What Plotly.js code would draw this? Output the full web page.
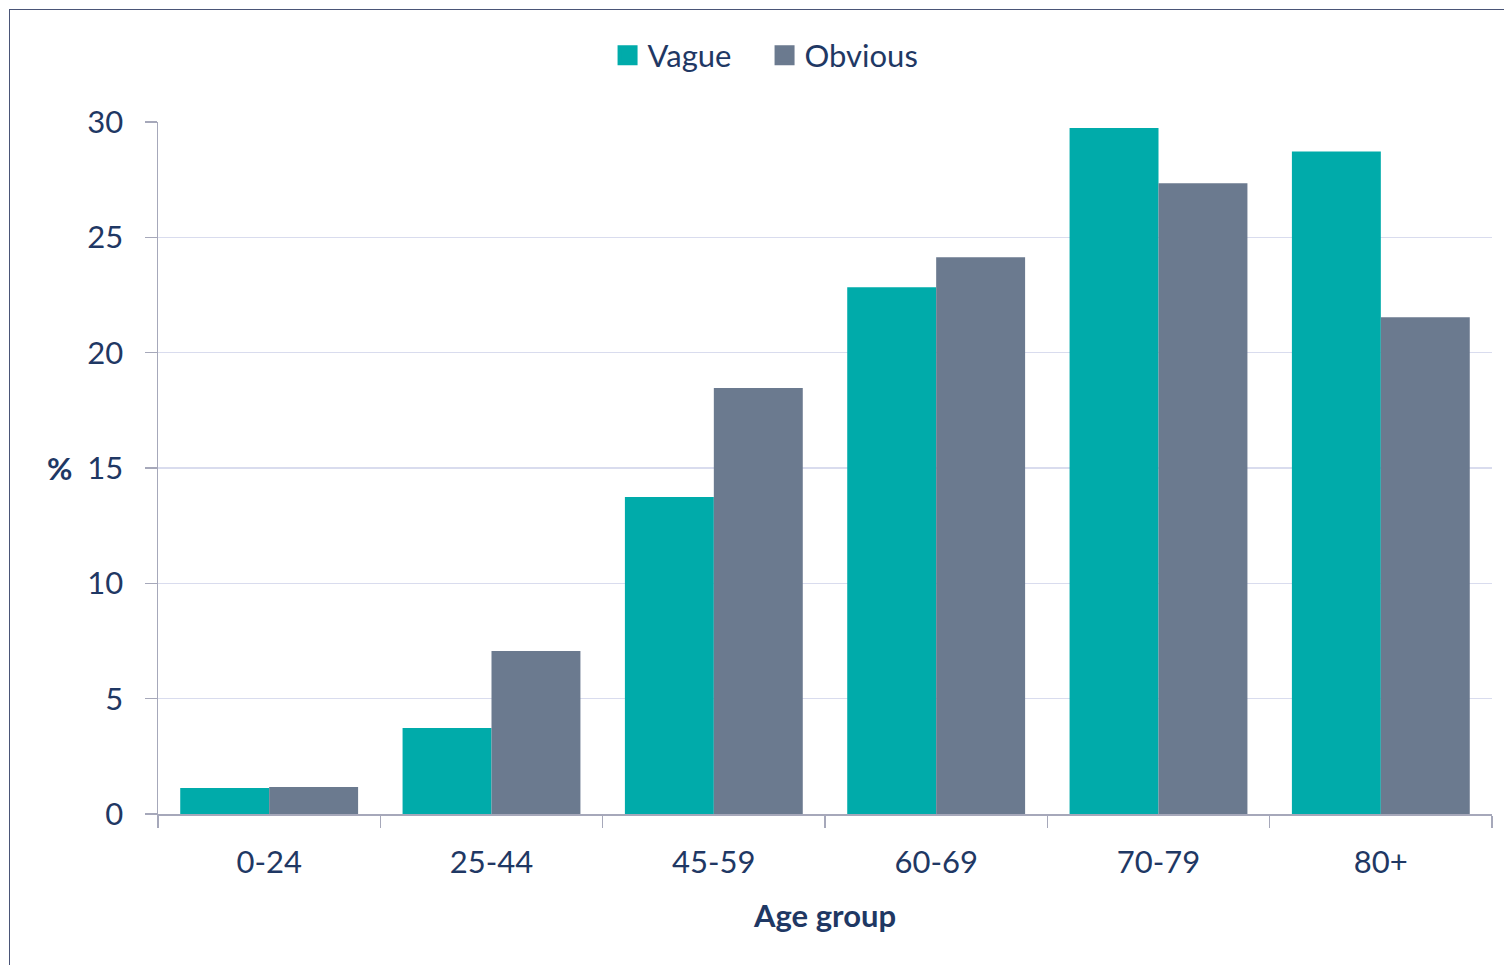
<!DOCTYPE html>
<html>
<head>
<meta charset="utf-8">
<script src="https://cdn.plot.ly/plotly-3.0.1.min.js"></script>
<style>
html,body{margin:0;padding:0;background:#fff;overflow:hidden;}
#wrap{position:relative;width:1504px;height:965px;}
#chart{position:absolute;left:0;top:0;width:1504px;height:965px;}
#frame{position:absolute;left:9px;top:9px;width:1600px;height:1000px;border-left:1.5px solid #4A5577;border-top:1.5px solid #4A5577;pointer-events:none;}
</style>
</head>
<body>
<div id="wrap"><div id="chart"></div><div id="frame"></div></div>
<script>
const categories = ["0-24", "25-44", "45-59", "60-69", "70-79", "80+"];
const vague = [1.13, 3.73, 13.74, 22.84, 29.74, 28.72];
const obvious = [1.17, 7.07, 18.47, 24.14, 27.35, 21.54];
const seriesNames = ["Vague", "Obvious"];
const colors = ["#00ABAA", "#6B7A8F"];
const textColor = "#1F3864";
const font = "Lato, 'Open Sans', sans-serif";

const traces = [
  {type: "bar", x: categories, y: vague, name: seriesNames[0], marker: {color: colors[0]}, showlegend: false, hoverinfo: "x+y"},
  {type: "bar", x: categories, y: obvious, name: seriesNames[1], marker: {color: colors[1]}, showlegend: false, hoverinfo: "x+y"},
  {type: "scatter", mode: "markers", x: [null], y: [null], name: seriesNames[0], marker: {symbol: "square", size: 16, color: colors[0], line: {color: colors[0], width: 4}}, showlegend: true},
  {type: "scatter", mode: "markers", x: [null], y: [null], name: seriesNames[1], marker: {symbol: "square", size: 16, color: colors[1], line: {color: colors[1], width: 4}}, showlegend: true}
];

const layout = {
  width: 1504, height: 965,
  margin: {l: 158, r: 12, t: 122, b: 151},
  paper_bgcolor: "#fff", plot_bgcolor: "#fff",
  font: {family: font, color: textColor, size: 31},
  barmode: "group", bargap: 0.2, bargroupgap: 0,
  showlegend: true,
  legend: {orientation: "h", x: 0.337, xanchor: "left", y: 1.096, yanchor: "middle", font: {size: 31, color: textColor}, itemwidth: 30, entrywidth: 112, entrywidthmode: "pixels", tracegroupgap: 0, bgcolor: "rgba(0,0,0,0)"},
  xaxis: {
    type: "category", categoryorder: "array", categoryarray: categories,
    showline: true, linecolor: "#A6A8BA", linewidth: 1.5,
    ticks: "outside", tickson: "boundaries", ticklen: 12, tickcolor: "#A6A8BA", tickwidth: 1.5,
    ticklabelstandoff: 20,
    tickfont: {size: 31, color: textColor},
    showgrid: false, zeroline: false,
    title: {text: "<b>Age group</b>", font: {size: 31, color: textColor}, standoff: 26}
  },
  yaxis: {
    range: [0, 30], dtick: 5, tick0: 0,
    showline: true, linecolor: "#A6A8BA", linewidth: 1.5,
    ticks: "outside", ticklen: 12, tickcolor: "#A6A8BA", tickwidth: 1.5,
    ticklabelstandoff: 15,
    tickfont: {size: 31, color: textColor},
    showgrid: true, gridcolor: "#D9DCEE", gridwidth: 1.2,
    zeroline: false
  },
  annotations: [
    {text: "<b>%</b>", xref: "paper", yref: "y", x: 0, y: 15, xanchor: "right", yanchor: "middle", xshift: -84, showarrow: false, font: {size: 31, color: textColor}}
  ]
};

Plotly.newPlot("chart", traces, layout, {displayModeBar: false, staticPlot: true});
</script>
</body>
</html>
